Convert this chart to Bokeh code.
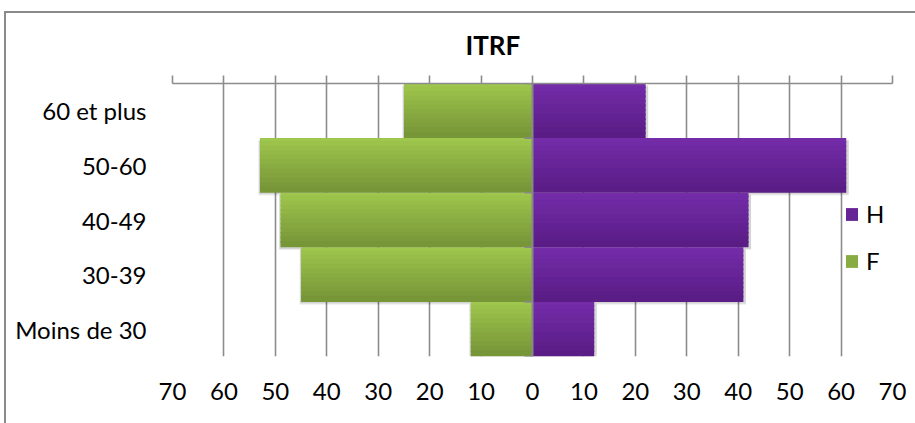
from bokeh.plotting import figure
from bokeh.models import (FixedTicker, LinearAxis, Range1d, Span,
                          Legend, LegendItem, InlineStyleSheet)
from bokeh.embed import file_html
from bokeh.resources import INLINE

# ---------------- data ----------------
categories = ["Moins de 30", "30-39", "40-49", "50-60", "60 et plus"]
hommes = [12, 41, 42, 61, 22]
femmes = [12, 45, 49, 53, 25]
series_names = ["H", "F"]
x_ticks = [-70, -60, -50, -40, -30, -20, -10, 0, 10, 20, 30, 40, 50, 60, 70]
x_tick_labels = ["70", "60", "50", "40", "30", "20", "10", "0",
                 "10", "20", "30", "40", "50", "60", "70"]
title_text = "ITRF"

# ---------------- style ----------------
FONT = "Lato"
GRID = "#8c8c8c"
W, H = 915, 423
FRAME_L, FRAME_R, FRAME_T, FRAME_B = 172, 892, 83, 356

border_css = InlineStyleSheet(css="""
:host { position: relative; }
:host::after {
  content: "";
  position: absolute;
  left: 4px; top: 11px;
  width: 911px; height: 412px;
  box-sizing: border-box;
  border-left: 2px solid #8a8a8a;
  border-top: 2px solid #8a8a8a;
  pointer-events: none;
  z-index: 10;
}
""")

p = figure(width=W, height=H, output_backend="svg", toolbar_location=None,
           x_range=Range1d(-70, 70), y_range=Range1d(0.5, len(categories) + 0.5),
           min_border_left=FRAME_L, min_border_right=W - FRAME_R,
           min_border_top=FRAME_T, min_border_bottom=H - FRAME_B,
           stylesheets=[border_css])
p.outline_line_color = None
p.background_fill_color = "white"
p.border_fill_color = "white"

# title
p.title.text = title_text
p.title.text_font = FONT
p.title.text_font_style = "bold"
p.title.text_font_size = "26px"
p.title.text_color = "black"
p.title.align = "left"
p.title.offset = 465 - FRAME_L
p.title.standoff = 30

# grid
p.xgrid.ticker = FixedTicker(ticks=x_ticks)
p.xgrid.grid_line_color = GRID
p.xgrid.grid_line_width = 1.6
p.ygrid.grid_line_color = None

# bottom axis: labels only
xa = p.xaxis[0]
xa.ticker = FixedTicker(ticks=x_ticks)
xa.major_label_overrides = {t: l for t, l in zip(x_ticks, x_tick_labels)}
xa.axis_line_color = None
xa.major_tick_line_color = None
xa.minor_tick_line_color = None
xa.major_label_text_font = FONT
xa.major_label_text_font_size = "24px"
xa.major_label_text_color = "black"
xa.major_label_standoff = 20

# left axis: category labels
ya = p.yaxis[0]
ya.ticker = FixedTicker(ticks=list(range(1, len(categories) + 1)))
ya.major_label_overrides = {i + 1: c for i, c in enumerate(categories)}
ya.axis_line_color = None
ya.major_tick_line_color = None
ya.minor_tick_line_color = None
ya.major_tick_out = 0
ya.major_label_text_font = FONT
ya.major_label_text_font_size = "24px"
ya.major_label_text_color = "black"
ya.major_label_standoff = 26

# top axis: line + outward ticks
top = LinearAxis(ticker=FixedTicker(ticks=x_ticks))
top.axis_line_color = GRID
top.axis_line_width = 1.6
top.major_tick_line_color = GRID
top.major_tick_line_width = 1.6
top.major_tick_out = 8
top.major_tick_in = 0
top.minor_tick_line_color = None
top.major_label_text_font_size = "1px"
top.major_label_text_alpha = 0
top.major_label_standoff = 0
p.add_layout(top, "above")

# ---------------- bars ----------------
ypos = [i + 1 for i in range(len(categories))]
f_left = [-v for v in femmes]


def lerp(c1, c2, t):
    return "#%02x%02x%02x" % tuple(round(a + (b - a) * t) for a, b in zip(c1, c2))


green_top, green_bot = (0x9f, 0xc6, 0x4d), (0x77, 0x96, 0x38)
purple_top, purple_bot = (0x74, 0x2c, 0xa9), (0x5a, 0x1d, 0x86)

# soft shadows
for dy, a in [(0.05, 0.07), (0.03, 0.10)]:
    p.hbar(y=[v - dy for v in ypos], height=1.0, left=[v - 0.25 for v in f_left],
           right=0, fill_color="black", fill_alpha=a, line_color=None)
    p.hbar(y=[v - dy for v in ypos], height=1.0, left=0, right=[v + 0.5 for v in hommes],
           fill_color="black", fill_alpha=a, line_color=None)

N = 12
EPS = 0.03
h_renderers, f_renderers = [], []
for k in range(N):
    t = k / (N - 1)
    bottom = [v + 0.5 - (k + 1) / N for v in ypos]
    topy = [v + 0.5 - k / N + (EPS if k > 0 else 0) for v in ypos]
    rf = p.hbar(y=[(a + b) / 2 for a, b in zip(bottom, topy)],
                height=(topy[0] - bottom[0]), left=f_left, right=0,
                fill_color=lerp(green_top, green_bot, t), line_color=None)
    rh = p.hbar(y=[(a + b) / 2 for a, b in zip(bottom, topy)],
                height=(topy[0] - bottom[0]), left=0, right=hommes,
                fill_color=lerp(purple_top, purple_bot, t), line_color=None)
    f_renderers.append(rf)
    h_renderers.append(rh)

# central category axis with tick marks at the category boundaries
p.add_layout(Span(location=0, dimension="height", line_color="#888888", line_width=2))
px_per_unit = (FRAME_R - FRAME_L) / 140.0
tick_len = 8 / px_per_unit
bounds = [v - 0.5 for v in ypos] + [ypos[-1] + 0.5]
p.segment(x0=[-tick_len] * len(bounds), x1=[0] * len(bounds), y0=bounds, y1=bounds,
          line_color="#888888", line_width=1.6)

# legend
legend = Legend(items=[LegendItem(label=series_names[0], renderers=[h_renderers[N // 2]]),
                       LegendItem(label=series_names[1], renderers=[f_renderers[N // 2]])],
                location=(672, 81), orientation="vertical",
                glyph_width=15, glyph_height=16, label_standoff=7, spacing=18,
                padding=0, margin=0, border_line_color=None,
                background_fill_alpha=0,
                label_text_font=FONT, label_text_font_size="24px",
                label_text_color="black")
p.add_layout(legend, "center")

open("out.html", "w").write(file_html(p, INLINE))
